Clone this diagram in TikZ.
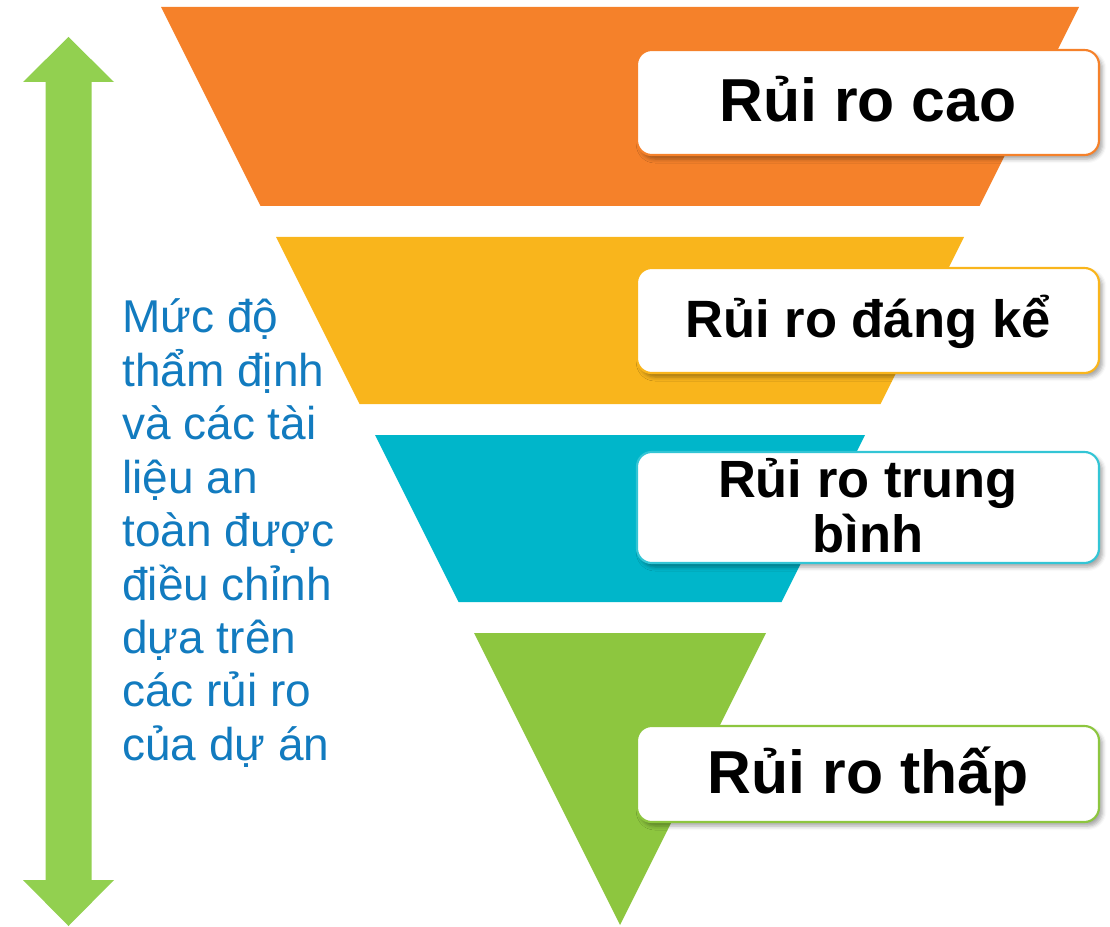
\documentclass[tikz,border=0pt]{standalone}
\usepackage{fontspec}
\setmainfont{Liberation Sans}
\usetikzlibrary{shadows.blur}
\definecolor{cOrange}{HTML}{F5812A}
\definecolor{cYellow}{HTML}{F9B51C}
\definecolor{cTeal}{HTML}{00B6CA}
\definecolor{cGreen}{HTML}{8DC63F}
\definecolor{cArrow}{HTML}{92D050}
\definecolor{cBlue}{HTML}{127BBF}
\tikzset{
  labelbox/.style={draw=#1, line width=1.6pt, fill=white, rounded corners=11pt,
    minimum width=346.5pt, inner sep=0pt,
    blur shadow={shadow xshift=2.5pt, shadow yshift=-3pt, shadow blur radius=3pt, shadow opacity=35}},
  boxtext/.style={font=\bfseries\fontsize{#1}{#1}\selectfont, text=black, inner sep=0pt, anchor=base},
  sidetext/.style={font=\fontsize{34.5pt}{40pt}\selectfont, text=cBlue, inner sep=0pt, anchor=base west}
}
\begin{document}
\begin{tikzpicture}[x=0.75pt,y=-0.75pt]
\useasboundingbox (0,0) rectangle (1110,927);
% funnel bands
\fill[cOrange] (161,7) -- (1079,7) -- (979.5,206) -- (260.5,206) -- cycle;
\fill[cYellow] (276,237) -- (964,237) -- (880.5,404) -- (359.5,404) -- cycle;
\fill[cTeal] (375,435) -- (865,435) -- (781.5,602) -- (458.5,602) -- cycle;
\fill[cGreen] (474,633) -- (766,633) -- (620,925) -- cycle;
% double arrow
\fill[cArrow] (68.5,37) -- (114,82) -- (91.5,82) -- (91.5,880) -- (114,880) -- (68.5,926)
  -- (23,880) -- (45.5,880) -- (45.5,82) -- (23,82) -- cycle;
% label boxes
\node[labelbox=cOrange, minimum height=78.75pt] (b1) at (868,102.5) {};
\node[labelbox=cYellow, minimum height=78.75pt] (b2) at (868,320.5) {};
\node[labelbox=cTeal!80, minimum height=83.25pt] (b3) at (868,507.5) {};
\node[labelbox=cGreen, minimum height=72pt] (b4) at (868,774) {};
\node[boxtext=45.5pt] (t1) at (868,122) {Rủi ro cao};
\node[boxtext=39.4pt] (t2) at (868,337) {Rủi ro đáng kể};
\node[boxtext=39.3pt] (t3a) at (868,497) {Rủi ro trung};
\node[boxtext=39.3pt] (t3b) at (868,552) {bình};
\node[boxtext=45.5pt] (t4) at (868,793) {Rủi ro thấp};
% side text
\foreach \txt [count=\i from 0] in {Mức độ, thẩm định, và các tài, liệu an, toàn được, điều chỉnh, dựa trên, các rủi ro, của dự án}{
  \node[sidetext] (s\i) at (122,{333+53.4*\i}) {\txt};
}
\end{tikzpicture}
\end{document}
